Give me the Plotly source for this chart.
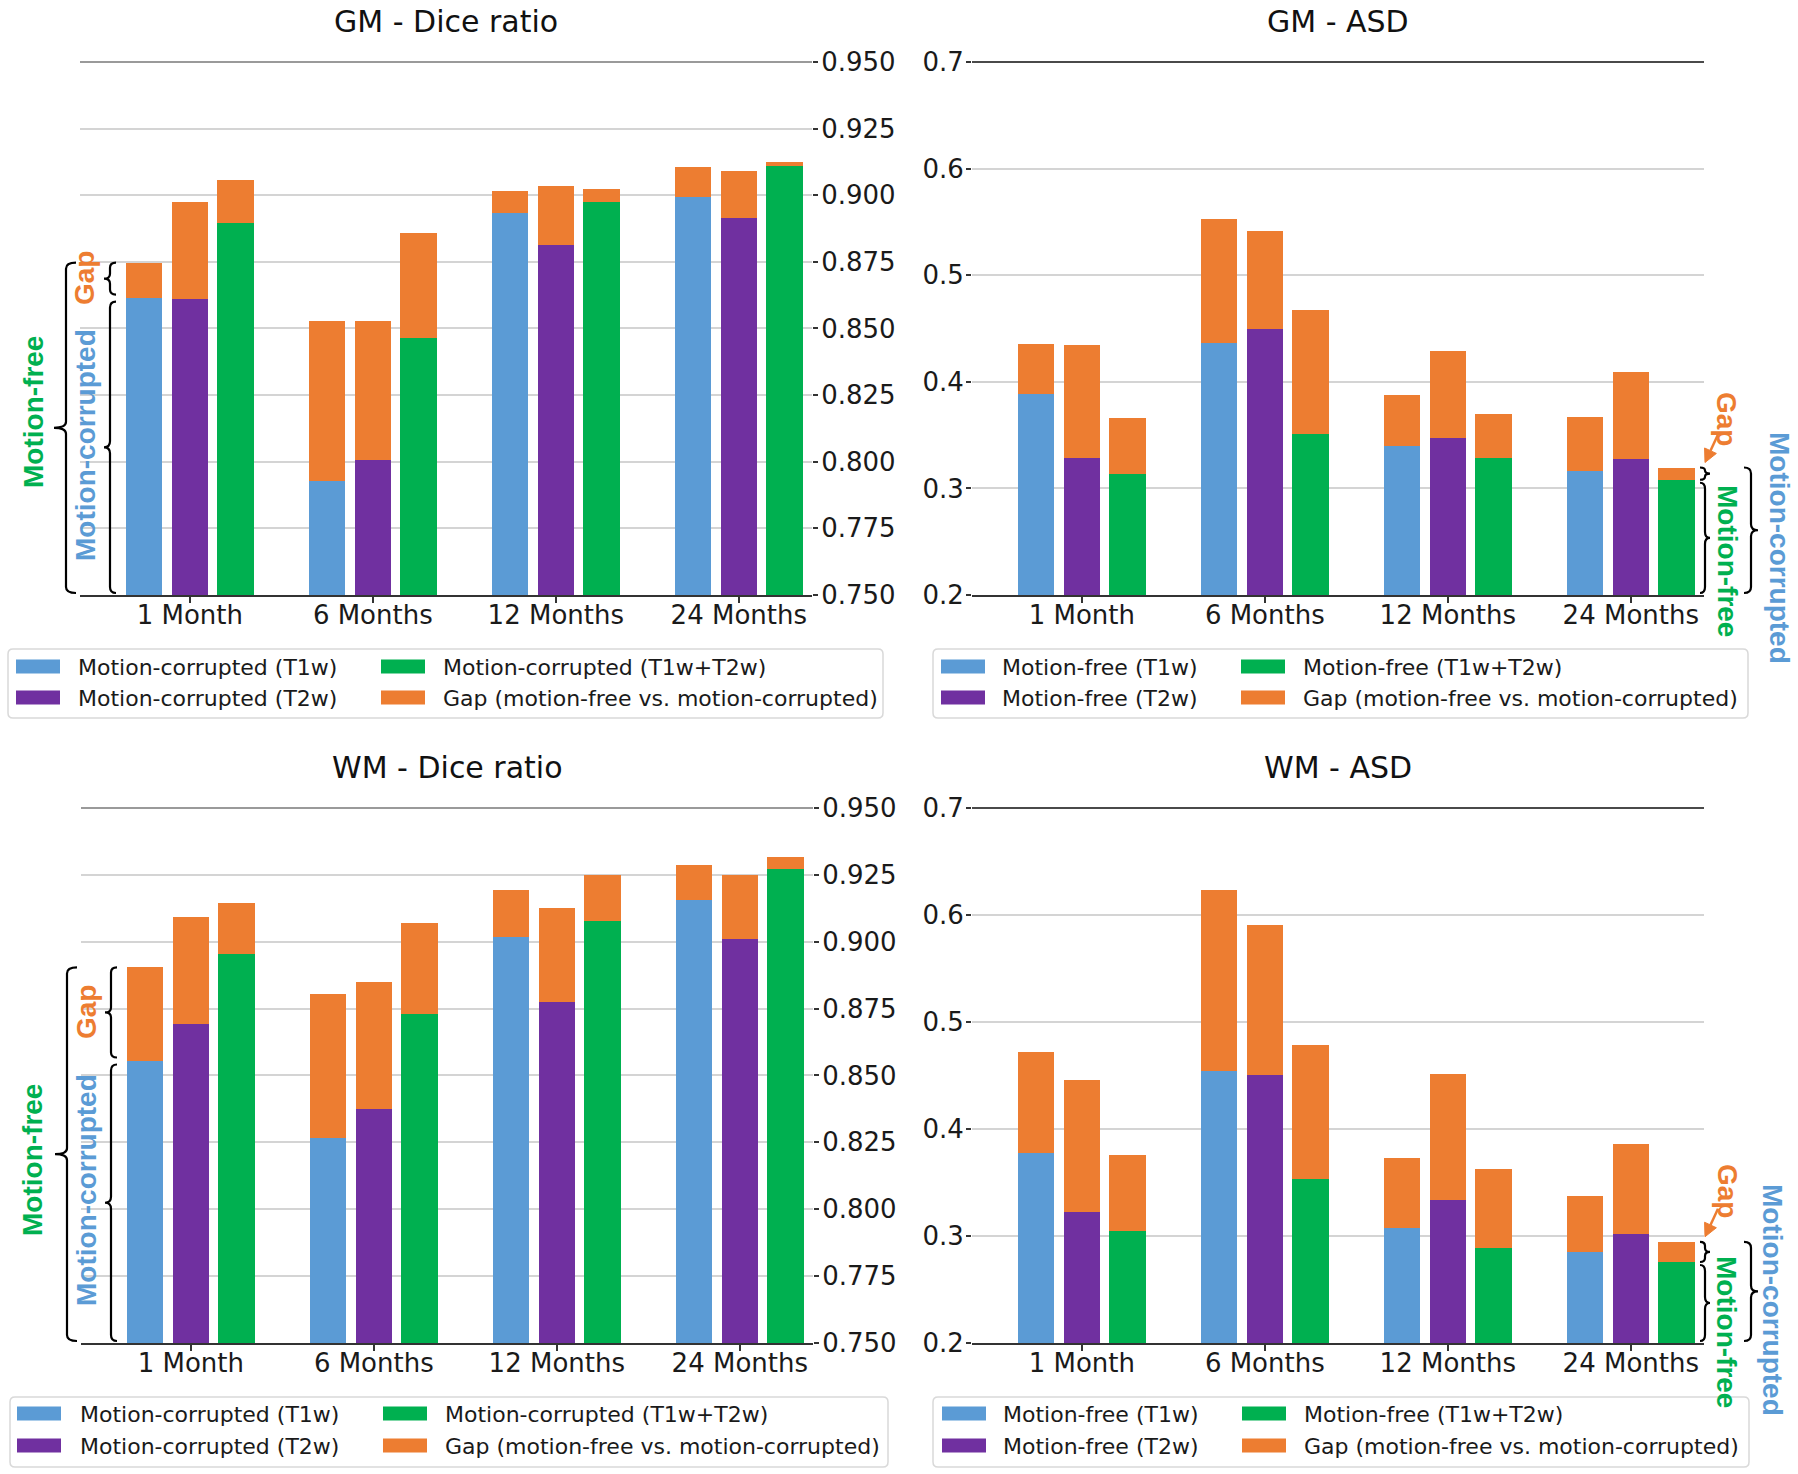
import plotly.graph_objects as go

W, H = 1798, 1474

# ---------------- data ----------------
periods = ["1 Month", "6 Months", "12 Months", "24 Months"]

# GM - Dice ratio : bars = motion-corrupted, top of orange = motion-free
gm_dice_corrupted_t1w = [0.8616, 0.7927, 0.8933, 0.8995]
gm_dice_corrupted_t2w = [0.8611, 0.8008, 0.8814, 0.8913]
gm_dice_corrupted_t1w_t2w = [0.8897, 0.8463, 0.8973, 0.9109]
gm_dice_free_t1w = [0.8747, 0.8528, 0.9017, 0.9107]
gm_dice_free_t2w = [0.8973, 0.8528, 0.9035, 0.9091]
gm_dice_free_t1w_t2w = [0.9056, 0.8859, 0.9023, 0.9124]

# GM - ASD : bars = motion-free, top of orange = motion-corrupted
gm_asd_free_t1w = [0.3885, 0.4367, 0.3396, 0.3167]
gm_asd_free_t2w = [0.3289, 0.4500, 0.3474, 0.3278]
gm_asd_free_t1w_t2w = [0.3137, 0.3507, 0.3281, 0.3081]
gm_asd_corrupted_t1w = [0.4352, 0.5526, 0.3878, 0.3670]
gm_asd_corrupted_t2w = [0.4344, 0.5411, 0.4285, 0.4089]
gm_asd_corrupted_t1w_t2w = [0.3659, 0.4674, 0.3700, 0.3196]

# WM - Dice ratio
wm_dice_corrupted_t1w = [0.8556, 0.8267, 0.9018, 0.9155]
wm_dice_corrupted_t2w = [0.8691, 0.8376, 0.8773, 0.9010]
wm_dice_corrupted_t1w_t2w = [0.8954, 0.8731, 0.9078, 0.9273]
wm_dice_free_t1w = [0.8904, 0.8803, 0.9195, 0.9287]
wm_dice_free_t2w = [0.9092, 0.8849, 0.9127, 0.9251]
wm_dice_free_t1w_t2w = [0.9145, 0.9070, 0.9249, 0.9317]

# WM - ASD
wm_asd_free_t1w = [0.3773, 0.4540, 0.3071, 0.2847]
wm_asd_free_t2w = [0.3225, 0.4505, 0.3335, 0.3016]
wm_asd_free_t1w_t2w = [0.3050, 0.3534, 0.2886, 0.2757]
wm_asd_corrupted_t1w = [0.4724, 0.6233, 0.3733, 0.3375]
wm_asd_corrupted_t2w = [0.4460, 0.5904, 0.4510, 0.3858]
wm_asd_corrupted_t1w_t2w = [0.3758, 0.4789, 0.3624, 0.2946]

dice_ticks = [0.750, 0.775, 0.800, 0.825, 0.850, 0.875, 0.900, 0.925, 0.950]
asd_ticks = [0.2, 0.3, 0.4, 0.5, 0.6, 0.7]

dice_legend = ["Motion-corrupted (T1w)", "Motion-corrupted (T2w)",
               "Motion-corrupted (T1w+T2w)", "Gap (motion-free vs. motion-corrupted)"]
asd_legend = ["Motion-free (T1w)", "Motion-free (T2w)",
              "Motion-free (T1w+T2w)", "Gap (motion-free vs. motion-corrupted)"]

BLUE, PURPLE, GREEN, ORANGE = "#5B9BD5", "#7030A0", "#00B050", "#ED7D31"
FONT = "DejaVu Sans"
BFONT = "Liberation Sans, Arial, sans-serif"


def X(px):
    return round(px / W, 6)


def Y(py):
    return round(1 - py / H, 6)


panels = [
    dict(name="GM - Dice ratio", ax="", dom_x=(80, 812), dom_y=(62, 595), rng=(0.75, 0.95),
         ticks=dice_ticks, fmt="{:.3f}", side="right", topcol="#9a9a9a",
         base=[gm_dice_corrupted_t1w, gm_dice_corrupted_t2w, gm_dice_corrupted_t1w_t2w],
         top=[gm_dice_free_t1w, gm_dice_free_t2w, gm_dice_free_t1w_t2w],
         legend=dice_legend, leg_box=(8, 883, 649, 718), leg_rows=(666.5, 697.5),
         leg_cols=(16, 381), leg_text=(76, 441), mc=(85, 445), mf=(33, 412), gp=(85, 278)),
    dict(name="GM - ASD", ax="2", dom_x=(972, 1704), dom_y=(62, 595), rng=(0.2, 0.7),
         ticks=asd_ticks, fmt="{:.1f}", side="left", topcol="#4a4a4a",
         base=[gm_asd_free_t1w, gm_asd_free_t2w, gm_asd_free_t1w_t2w],
         top=[gm_asd_corrupted_t1w, gm_asd_corrupted_t2w, gm_asd_corrupted_t1w_t2w],
         legend=asd_legend, leg_box=(933, 1748, 649, 718), leg_rows=(666.5, 697.5),
         leg_cols=(941, 1241), leg_text=(1000, 1301), mc=(1779, 548), mf=(1727, 561), gp=(1727, 419)),
    dict(name="WM - Dice ratio", ax="3", dom_x=(81, 813), dom_y=(808, 1343), rng=(0.75, 0.95),
         ticks=dice_ticks, fmt="{:.3f}", side="right", topcol="#9a9a9a",
         base=[wm_dice_corrupted_t1w, wm_dice_corrupted_t2w, wm_dice_corrupted_t1w_t2w],
         top=[wm_dice_free_t1w, wm_dice_free_t2w, wm_dice_free_t1w_t2w],
         legend=dice_legend, leg_box=(10, 888, 1397, 1467), leg_rows=(1413.5, 1445.5),
         leg_cols=(17, 383), leg_text=(78, 443), mc=(87, 1190), mf=(33, 1160), gp=(87, 1012)),
    dict(name="WM - ASD", ax="4", dom_x=(972, 1704), dom_y=(808, 1343), rng=(0.2, 0.7),
         ticks=asd_ticks, fmt="{:.1f}", side="left", topcol="#4a4a4a",
         base=[wm_asd_free_t1w, wm_asd_free_t2w, wm_asd_free_t1w_t2w],
         top=[wm_asd_corrupted_t1w, wm_asd_corrupted_t2w, wm_asd_corrupted_t1w_t2w],
         legend=asd_legend, leg_box=(933, 1749, 1397, 1467), leg_rows=(1413.5, 1445.5),
         leg_cols=(942, 1242), leg_text=(1001, 1302), mc=(1773, 1300), mf=(1727, 1332), gp=(1727, 1191)),
]

fig = go.Figure()
shapes, annotations = [], []
layout_axes = {}

offsets = [-0.25, 0.0, 0.25]
colors = [BLUE, PURPLE, GREEN]
xs = list(range(len(periods)))

for p in panels:
    xa, ya = "x" + p["ax"], "y" + p["ax"]
    for k in range(3):
        xk = [i + offsets[k] for i in xs]
        fig.add_trace(go.Bar(x=xk, y=p["base"][k], width=0.2, marker=dict(color=colors[k], line=dict(width=0)),
                             xaxis=xa, yaxis=ya, showlegend=False, name=p["legend"][k]))
        gap = [t - b for t, b in zip(p["top"][k], p["base"][k])]
        fig.add_trace(go.Bar(x=xk, y=gap, base=p["base"][k], width=0.2,
                             marker=dict(color=ORANGE, line=dict(width=0)),
                             xaxis=xa, yaxis=ya, showlegend=False, name=p["legend"][3]))

    x0, x1 = p["dom_x"]
    yt, yb = p["dom_y"]
    layout_axes["xaxis" + p["ax"]] = dict(
        domain=[X(x0), X(x1)], range=[-0.6, 3.4], anchor=ya,
        tickvals=xs, ticktext=periods, showgrid=False, zeroline=False,
        showline=True, linecolor="#333333", linewidth=2,
        ticks="outside", ticklen=6, tickwidth=1.5, tickcolor="#333333",
        ticklabelstandoff=-10,
        tickfont=dict(family=FONT, size=26, color="#1a1a1a"))
    layout_axes["yaxis" + p["ax"]] = dict(
        domain=[Y(yb), Y(yt)], range=list(p["rng"]), anchor=xa, side=p["side"],
        tickvals=p["ticks"], ticktext=[p["fmt"].format(v) for v in p["ticks"]],
        showgrid=True, gridcolor="#d4d4d4", gridwidth=2, zeroline=False, showline=False,
        ticks="outside", ticklen=5, tickwidth=1.5, tickcolor="#333333",
        ticklabelstandoff=-2 if p["side"] == "right" else -3,
        tickfont=dict(family=FONT, size=26, color="#1a1a1a"))

    # top spine
    shapes.append(dict(type="line", xref="paper", yref="paper", x0=X(x0), x1=X(x1), y0=Y(yt), y1=Y(yt),
                       line=dict(color=p["topcol"], width=2)))
    # title
    annotations.append(dict(text=p["name"], xref="paper", yref="paper", x=X((x0 + x1) / 2),
                            y=Y(yt - 40), xanchor="center", yanchor="middle", showarrow=False,
                            font=dict(family=FONT, size=30, color="#111111")))
    # legend box (rounded)
    bx0, bx1, by0, by1 = p["leg_box"]
    r = 5
    path = (f"M {X(bx0 + r)},{Y(by0)} L {X(bx1 - r)},{Y(by0)} Q {X(bx1)},{Y(by0)} {X(bx1)},{Y(by0 + r)} "
            f"L {X(bx1)},{Y(by1 - r)} Q {X(bx1)},{Y(by1)} {X(bx1 - r)},{Y(by1)} "
            f"L {X(bx0 + r)},{Y(by1)} Q {X(bx0)},{Y(by1)} {X(bx0)},{Y(by1 - r)} "
            f"L {X(bx0)},{Y(by0 + r)} Q {X(bx0)},{Y(by0)} {X(bx0 + r)},{Y(by0)} Z")
    shapes.append(dict(type="path", xref="paper", yref="paper", path=path,
                       fillcolor="white", line=dict(color="#d9d9d9", width=1.5)))
    entries = [(0, 0, BLUE), (0, 1, PURPLE), (1, 0, GREEN), (1, 1, ORANGE)]
    for idx, (c, rrow, col) in enumerate(entries):
        sx = p["leg_cols"][c]
        sy = p["leg_rows"][rrow]
        shapes.append(dict(type="rect", xref="paper", yref="paper", x0=X(sx), x1=X(sx + 44),
                           y0=Y(sy - 7), y1=Y(sy + 7), fillcolor=col, line=dict(width=0)))
        annotations.append(dict(text=p["legend"][idx], xref="paper", yref="paper",
                                x=X(p["leg_text"][c]), y=Y(sy + 1), xanchor="left", yanchor="middle",
                                showarrow=False, font=dict(family=FONT, size=22, color="#1a1a1a")))


def ypix(p, v):
    lo, hi = p["rng"]
    yt, yb = p["dom_y"]
    return yt + (hi - v) / (hi - lo) * (yb - yt)


def brace(xv, ya, yb, h, t, r=6, w=2.2):
    ym = (ya + yb) / 2
    r = min(r, (yb - ya) / 4)
    path = (f"M {X(xv + h)},{Y(ya)} Q {X(xv)},{Y(ya)} {X(xv)},{Y(ya + r)} "
            f"L {X(xv)},{Y(ym - r)} Q {X(xv)},{Y(ym)} {X(xv + t)},{Y(ym)} "
            f"Q {X(xv)},{Y(ym)} {X(xv)},{Y(ym + r)} "
            f"L {X(xv)},{Y(yb - r)} Q {X(xv)},{Y(yb)} {X(xv + h)},{Y(yb)}")
    shapes.append(dict(type="path", xref="paper", yref="paper", path=path,
                       line=dict(color="black", width=w)))


def label(text, pos, color, angle):
    annotations.append(dict(text=f"<b>{text}</b>", xref="paper", yref="paper", x=X(pos[0]), y=Y(pos[1]),
                            xanchor="center", yanchor="middle", showarrow=False, textangle=angle,
                            font=dict(family=BFONT, size=28, color=color)))


# Left-side braces for Dice panels (1 Month, T1w bar)
for p in (panels[0], panels[2]):
    left = p["dom_x"][0]
    y_top = ypix(p, p["top"][0][0])
    y_base = ypix(p, p["base"][0][0])
    y_bot = ypix(p, p["rng"][0]) - 2
    brace(left - 14, y_top, y_bot, 10, -12)
    brace(left + 30, y_top, y_base - 3, 6, -6, r=5)
    brace(left + 30, y_base + 4, y_bot, 6, -6)
    label("Motion-free", p["mf"], GREEN, -90)
    label("Motion-corrupted", p["mc"], BLUE, -90)
    label("Gap", p["gp"], ORANGE, -90)

# Right-side braces for ASD panels (24 Months, T1w+T2w bar)
for p in (panels[1], panels[3]):
    right = p["dom_x"][1]
    y_top = ypix(p, p["top"][2][3])
    y_base = ypix(p, p["base"][2][3])
    y_bot = ypix(p, p["rng"][0]) - 2
    brace(right + 1, y_top, y_base, -5, 5, r=4)
    brace(right + 1, y_base + 3, y_bot, -5, 5)
    brace(right + 47, y_top, y_bot, -7, 7)
    label("Gap", p["gp"], ORANGE, 90)
    label("Motion-free", p["mf"], GREEN, 90)
    label("Motion-corrupted", p["mc"], BLUE, 90)
    # arrow from "Gap" to the small brace
    tipx, tipy = right + 1, y_top - 5
    tailx, taily = right + 14, y_top - 33
    dx, dy = tipx - tailx, tipy - taily
    L = (dx * dx + dy * dy) ** 0.5
    ux, uy = dx / L, dy / L
    hl, hw = 13, 6.5
    bx, by = tipx - hl * ux, tipy - hl * uy
    nx, ny = -uy, ux
    shapes.append(dict(type="line", xref="paper", yref="paper", x0=X(tailx), y0=Y(taily),
                       x1=X(bx), y1=Y(by), line=dict(color=ORANGE, width=2.5)))
    shapes.append(dict(type="path", xref="paper", yref="paper",
                       path=f"M {X(tipx)},{Y(tipy)} L {X(bx + hw * nx)},{Y(by + hw * ny)} "
                            f"L {X(bx - hw * nx)},{Y(by - hw * ny)} Z",
                       fillcolor=ORANGE, line=dict(color=ORANGE, width=1)))

fig.update_layout(
    width=W, height=H, margin=dict(l=0, r=0, t=0, b=0),
    paper_bgcolor="white", plot_bgcolor="white", template="none",
    barmode="overlay", bargap=0, showlegend=False,
    shapes=shapes, annotations=annotations, **layout_axes)

# remove the default page margin so the figure fills the window exactly
fig.write_html("out.html", config={"displayModeBar": False},
               post_script="document.body.style.margin='0';document.body.style.overflow='hidden';")
